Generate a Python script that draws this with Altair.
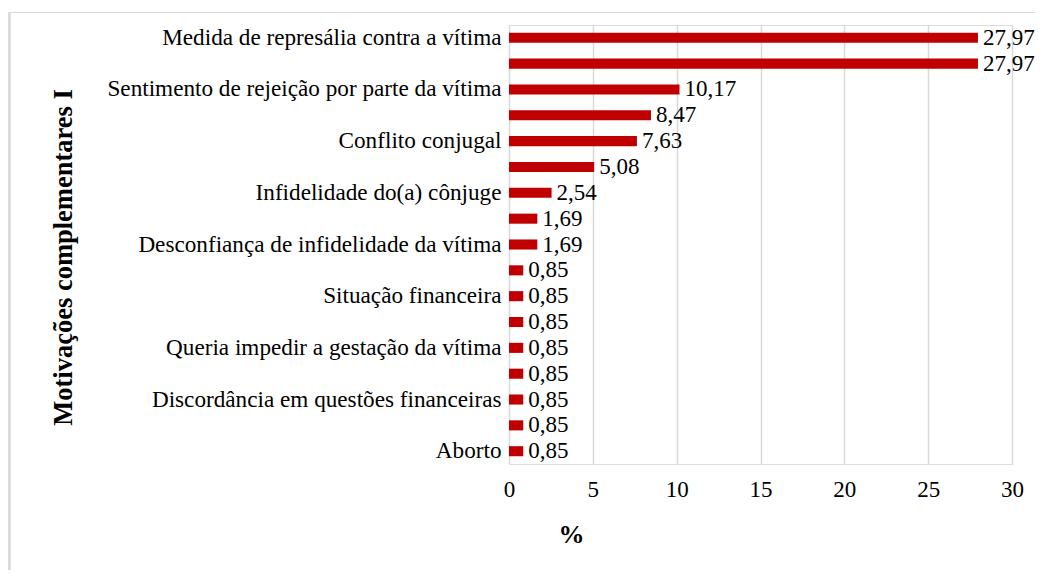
import altair as alt
import pandas as pd

categories = [
    "Medida de represália contra a vítima",
    "Outra motivação 1",
    "Sentimento de rejeição por parte da vítima",
    "Outra motivação 2",
    "Conflito conjugal",
    "Outra motivação 3",
    "Infidelidade do(a) cônjuge",
    "Outra motivação 4",
    "Desconfiança de infidelidade da vítima",
    "Outra motivação 5",
    "Situação financeira",
    "Outra motivação 6",
    "Queria impedir a gestação da vítima",
    "Outra motivação 7",
    "Discordância em questões financeiras",
    "Outra motivação 8",
    "Aborto",
]
values = [27.97, 27.97, 10.17, 8.47, 7.63, 5.08, 2.54, 1.69, 1.69,
          0.85, 0.85, 0.85, 0.85, 0.85, 0.85, 0.85, 0.85]
shown_labels = categories[0::2]
x_ticks = [0, 5, 10, 15, 20, 25, 30]

df = pd.DataFrame({"cat": categories, "val": values})

FONT = "Liberation Serif"
W, H = 503, 439

label_expr = "indexof([" + ",".join("'" + s + "'" for s in shown_labels) + "], datum.value) >= 0 ? datum.label : ''"

x_enc = alt.X(
    "val:Q",
    scale=alt.Scale(domain=[0, 30], nice=False, zero=True),
    axis=alt.Axis(
        values=x_ticks, title="%", grid=True, gridColor="#d9d9d9", gridWidth=1.5,
        domain=False, ticks=False, tickSize=0, labelPadding=14,
        labelFont=FONT, labelFontSize=23, labelColor="#000000",
        titleFont=FONT, titleFontSize=26, titleFontWeight="bold", titleColor="#000000",
        titleX=62, titleY=70, titleAlign="center", titleBaseline="middle",
        labelFlush=False,
    ),
)
y_enc = alt.Y(
    "cat:N",
    sort=categories,
    scale=alt.Scale(paddingInner=0.61, paddingOuter=0.3),
    axis=alt.Axis(
        title="Motivações complementares I", domain=False, ticks=False, tickSize=0,
        labelPadding=8, labelFont=FONT, labelFontSize=23.2, labelColor="#000000",
        labelExpr=label_expr, labelLimit=0,
        titleFont=FONT, titleFontSize=26.5, titleFontWeight="bold", titleColor="#000000",
        titleAngle=270, titleX=-446, titleY=232, titleAlign="center", titleBaseline="middle",
    ),
)

bars = alt.Chart(df).mark_bar(color="#c00000").encode(x=x_enc, y=y_enc)

text = alt.Chart(df).transform_calculate(
    lbl="replace(format(datum.val, '.2f'), '.', ',')"
).mark_text(
    align="left", baseline="middle", dx=5, font=FONT, fontSize=23, color="#000000"
).encode(x="val:Q", y=alt.Y("cat:N", sort=categories), text="lbl:N")

frame_top = alt.Chart(df).mark_rule(color="#d9d9d9", strokeWidth=1.2).encode(
    x=alt.value(-499.5), x2=alt.value(W + 40), y=alt.value(-12.5)
)
frame_left = alt.Chart(df).mark_rule(color="#d9d9d9", strokeWidth=1.2).encode(
    x=alt.value(-499.5), y=alt.value(-12.5), y2=alt.value(H + 140)
)

chart = alt.layer(frame_top, frame_left, bars, text).properties(
    width=W, height=H,
    autosize=alt.AutoSizeParams(type="none"),
    padding={"left": 501, "top": 17, "right": 23, "bottom": 106},
).configure_view(stroke=None).configure(background="white")

chart.save("out.html", embed_options={"renderer": "svg", "actions": False})
